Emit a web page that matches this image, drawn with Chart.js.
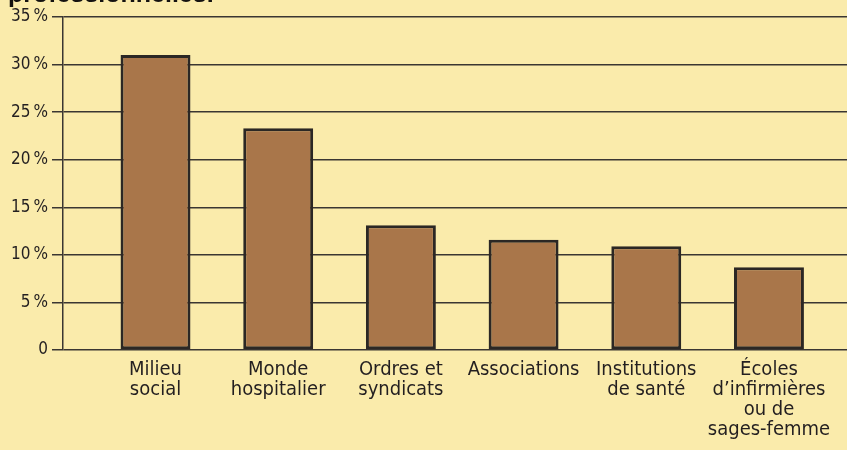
<!DOCTYPE html>
<html>
<head>
<meta charset="utf-8">
<script src="https://cdn.jsdelivr.net/npm/chart.js@4"></script>
<style>
  html, body { margin: 0; padding: 0; background: #faebab; overflow: hidden; }
  #wrap { position: relative; width: 847px; height: 450px; }
  #title {
    position: absolute; left: 8px; top: -19px;
    font: bold 25px "Liberation Sans", Arial, sans-serif; line-height: 25px;
    color: #141210; white-space: nowrap;
  }
</style>
</head>
<body>
<div id="wrap">
  <canvas id="chart"></canvas>
  <div id="title">professionnelles.</div>
</div>
<script>
const categories = [
  ["Milieu", "social"],
  ["Monde", "hospitalier"],
  ["Ordres et", "syndicats"],
  ["Associations"],
  ["Institutions", "de santé"],
  ["Écoles", "d’infirmières", "ou de", "sages-femme"]
];
const shares = [31, 23.3, 13.1, 11.6, 10.9, 8.7];
const yTicks = [0, 5, 10, 15, 20, 25, 30, 35];

const ink = "#2b2724";
const fontFamily = '"Liberation Sans Narrow", "DejaVu Sans Condensed", sans-serif';

const ctx = document.getElementById("chart").getContext("2d");

new Chart(ctx, {
  type: "bar",
  data: {
    datasets: [{
      data: shares.map((v, i) => ({ x: i, y: v })),
      backgroundColor: "#a9764a",
      borderColor: ink,
      borderWidth: 3,
      borderSkipped: false,
      categoryPercentage: 1,
      barPercentage: 0.57
    }]
  },
  options: {
    responsive: true,
    maintainAspectRatio: false,
    animation: false,
    layout: { padding: { top: 17, right: 0, left: 0, bottom: 0 } },
    plugins: { legend: { display: false }, tooltip: { enabled: false } },
    scales: {
      x: {
        type: "linear",
        offset: false,
        min: -0.754,
        max: 5.636,
        grid: { display: false },
        border: { display: false },
        afterBuildTicks: axis => {
          axis.ticks = categories.map((_, i) => ({ value: i }));
        },
        afterFit: axis => { axis.height = 100; },
        ticks: {
          autoSkip: false,
          maxRotation: 0,
          padding: 2,
          color: "#231f20",
          font: { family: fontFamily, size: 20, lineHeight: "20px" },
          callback: v => categories[v]
        }
      },
      y: {
        min: 0,
        max: 35,
        afterBuildTicks: axis => {
          axis.ticks = yTicks.map(v => ({ value: v }));
        },
        afterFit: axis => { axis.width = 63; },
        grid: { color: "#3a3632", lineWidth: 1.5, tickLength: 11 },
        border: { color: "#3a3632", width: 1.5 },
        ticks: {
          padding: 4,
          color: "#231f20",
          font: { family: fontFamily, size: 17 },
          callback: v => v === 0 ? "0" : v + "\u2009%"
        }
      }
    }
  }
});
</script>
</body>
</html>
